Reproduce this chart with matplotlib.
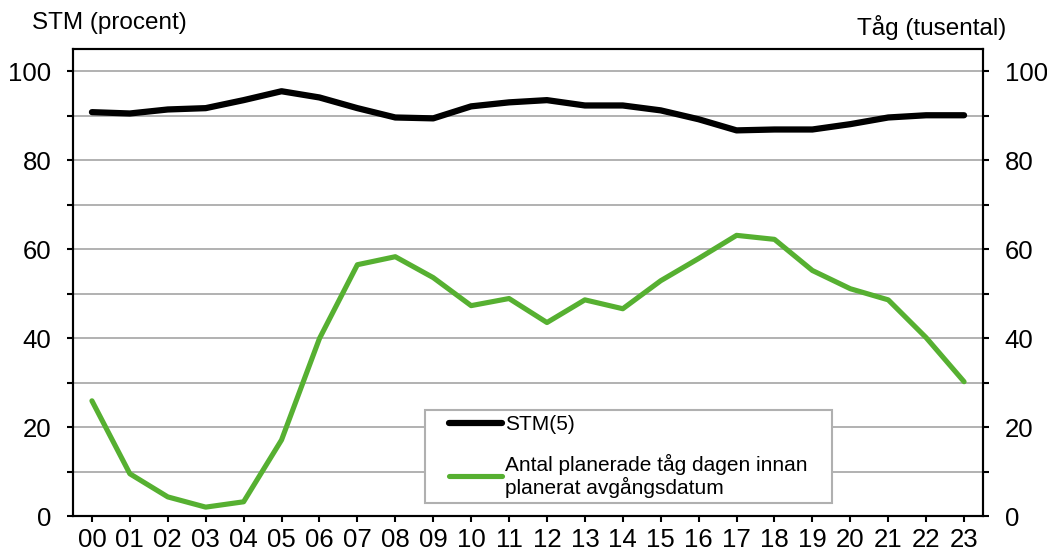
import matplotlib.pyplot as plt
from matplotlib.patches import Rectangle
from matplotlib.ticker import MultipleLocator

plt.rcParams['font.family'] = ['Liberation Sans', 'DejaVu Sans']

hours = ['00', '01', '02', '03', '04', '05', '06', '07', '08', '09', '10', '11',
         '12', '13', '14', '15', '16', '17', '18', '19', '20', '21', '22', '23']
stm = [90.8, 90.5, 91.4, 91.7, 93.5, 95.5, 94.1, 91.7, 89.6, 89.4, 92.1, 93.0,
       93.5, 92.3, 92.3, 91.2, 89.2, 86.7, 86.9, 86.9, 88.1, 89.6, 90.1, 90.1]
trains = [25.9, 9.5, 4.3, 2.0, 3.2, 17.1, 39.9, 56.5, 58.3, 53.6, 47.3, 48.9,
          43.5, 48.6, 46.6, 52.9, 57.9, 63.1, 62.2, 55.2, 51.1, 48.6, 40.1, 30.2]

fig = plt.figure(figsize=(10.47, 5.56), dpi=100)
ax = fig.add_axes([0.0697, 0.0719, 0.8692, 0.8400])
x = list(range(len(hours)))

ax.plot(x, stm, color='black', lw=4.5, solid_capstyle='round', label='STM(5)')
ax.plot(x, trains, color='#56B031', lw=3.7, solid_capstyle='round',
        label='Antal planerade tåg dagen innan\nplanerat avgångsdatum')

ax.set_xlim(-0.5, 23.5)
ax.set_ylim(0, 105)
ax.set_xticks(x)
ax.set_xticklabels(hours, fontsize=18.5)
ax.yaxis.set_minor_locator(MultipleLocator(10))
ax.set_yticks([0, 20, 40, 60, 80, 100])
for y in range(10, 101, 10):
    ax.axhline(y, color='#ABABAB', lw=1.3, zorder=0)
ax.tick_params(axis='y', which='both', direction='out', length=4.5, width=1.5, labelsize=18.5, pad=11)
ax.tick_params(axis='x', direction='out', length=4.5, width=1.5, pad=4)
for s in ax.spines.values():
    s.set_linewidth(1.5)

ax2 = ax.twinx()
ax2.set_ylim(0, 105)
ax2.yaxis.set_minor_locator(MultipleLocator(10))
ax2.set_yticks([0, 20, 40, 60, 80, 100])
ax2.tick_params(axis='y', which='both', direction='out', length=4.5, width=1.5, labelsize=18.5, pad=11)
for s in ax2.spines.values():
    s.set_linewidth(1.5)

fig.text(0.031, 0.958, 'STM (procent)', fontsize=17.5, va='center', ha='left')
fig.text(0.961, 0.95, 'Tåg (tusental)', fontsize=17.5, va='center', ha='right')

# legend box drawn separately so the padding matches
ax.add_patch(Rectangle((0.3868, 0.028), 0.447, 0.199, transform=ax.transAxes,
                       facecolor='white', edgecolor='#B0B0B0', lw=1.5, zorder=3))
leg = ax.legend(loc='upper left', bbox_to_anchor=(0.413, 0.216), fontsize=15,
                handlelength=2.55, handletextpad=0.15, labelspacing=0.95,
                borderpad=0, frameon=False, borderaxespad=0)
for t in leg.get_texts():
    t.set_linespacing(1.1)
leg.set_zorder(4)

fig.savefig('out.png', dpi=100)
